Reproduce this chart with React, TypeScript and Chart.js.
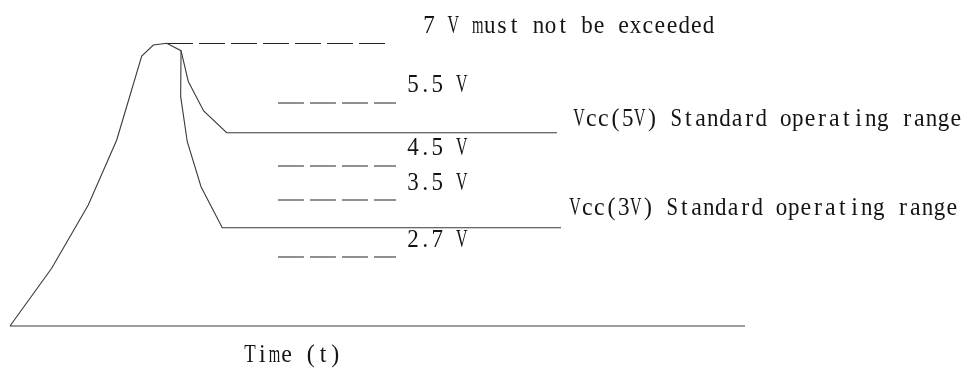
import React, { useEffect, useRef } from "react";
import { Chart, registerables } from "chart.js";

Chart.register(...registerables);

// Diagram units: time (x) 0..100, level (y) 0..100 (schematic, not to scale)
const riseT = [0, 5.67, 10.65, 14.52, 17.92, 19.5, 21.32, 23.27];
const riseV = [0, 18.38, 38.54, 59.24, 85.99, 89.49, 90.03, 87.68];

const vcc5T = [23.27, 24.26, 26.35, 29.48, 74.42];
const vcc5V = [87.68, 77.87, 68.47, 61.56, 61.56];

const vcc3T = [23.27, 23.22, 24.12, 25.99, 28.88, 74.97];
const vcc3V = [87.68, 73.03, 58.69, 44.36, 31.31, 31.31];

const axisT = [0, 100];
const axisV = [0, 0];

// Dashed limit lines
const limitNames = ["7 V", "5.5 V", "4.5 V", "3.5 V", "2.7 V"];
const limitLevel = [89.97, 71.02, 50.96, 40.13, 21.97];
const limitStart = [21.36, 36.46, 36.46, 36.46, 36.46];
const limitEnd = [51.02, 52.52, 52.52, 52.52, 52.52];

// Text labels (left x, baseline y)
const labelTexts = [
  "7 V must not be exceeded",
  "5.5 V",
  "4.5 V",
  "3.5 V",
  "2.7 V",
  "Vcc(5V) Standard operating range",
  "Vcc(3V) Standard operating range",
  "Time (t)",
];
const labelT = [56.19, 54.01, 54.01, 54.01, 54.01, 76.6, 76.05, 31.84];
const labelV = [93.31, 74.52, 54.46, 43.31, 25.16, 63.69, 35.35, -11.46];

const LINE = "#3a3a3a";
const TEXT = "#141414";

const pts = (xs: number[], ys: number[]) => xs.map((x, i) => ({ x, y: ys[i] }));

const textPlugin = {
  id: "diagramText",
  afterDatasetsDraw(chart: any) {
    const { ctx, scales } = chart;
    ctx.save();
    ctx.fillStyle = TEXT;
    ctx.font = "26px 'Liberation Serif'";
    ctx.textAlign = "center";
    ctx.textBaseline = "alphabetic";
    const pitch = 12.15;
    labelTexts.forEach((txt, li) => {
      const x0 = scales.x.getPixelForValue(labelT[li]);
      const y0 = scales.y.getPixelForValue(labelV[li]);
      for (let i = 0; i < txt.length; i++) {
        const ch = txt[i];
        if (ch === " ") continue;
        const w = ctx.measureText(ch).width;
        let sx = 0.92;
        if (w * sx > 11.5) sx = 11.5 / w;
        const cx = x0 + i * pitch + pitch / 2;
        ctx.save();
        ctx.translate(cx, y0);
        ctx.scale(sx, 1);
        ctx.fillText(ch, 0, 0);
        ctx.restore();
      }
    });
    ctx.restore();
  },
};

export default function App() {
  const ref = useRef<HTMLCanvasElement | null>(null);

  useEffect(() => {
    if (!ref.current) return;
    const solid = (data: any[]) => ({
      data,
      borderColor: LINE,
      borderWidth: 1.1,
      pointRadius: 0,
      fill: false,
      tension: 0,
      clip: false as any,
    });
    const datasets: any[] = [
      { label: "rise + Vcc(5V)", ...solid(pts([...riseT, ...vcc5T.slice(1)], [...riseV, ...vcc5V.slice(1)])) },
      { label: "Vcc(3V)", ...solid(pts(vcc3T, vcc3V)) },
      { label: "Time axis", ...solid(pts(axisT, axisV)) },
      ...limitNames.map((n, i) => ({
        label: n,
        ...solid([
          { x: limitStart[i], y: limitLevel[i] },
          { x: limitEnd[i], y: limitLevel[i] },
        ]),
        borderColor: "#222",
        borderDash: [26, 6],
      })),
    ];
    const chart = new Chart(ref.current, {
      type: "line",
      data: { datasets },
      options: {
        responsive: false,
        animation: false,
        devicePixelRatio: 1,
        layout: { padding: { left: 10, right: 222, top: 12, bottom: 48 } },
        plugins: { legend: { display: false }, tooltip: { enabled: false } },
        scales: {
          x: { type: "linear", min: 0, max: 100, display: false },
          y: { type: "linear", min: 0, max: 100, display: false },
        },
      },
      plugins: [textPlugin],
    });
    return () => chart.destroy();
  }, []);

  return (
    <div style={{ position: "fixed", left: 0, top: 0, width: 967, height: 374, background: "#fff" }}>
      <canvas ref={ref} width={967} height={374} />
    </div>
  );
}
